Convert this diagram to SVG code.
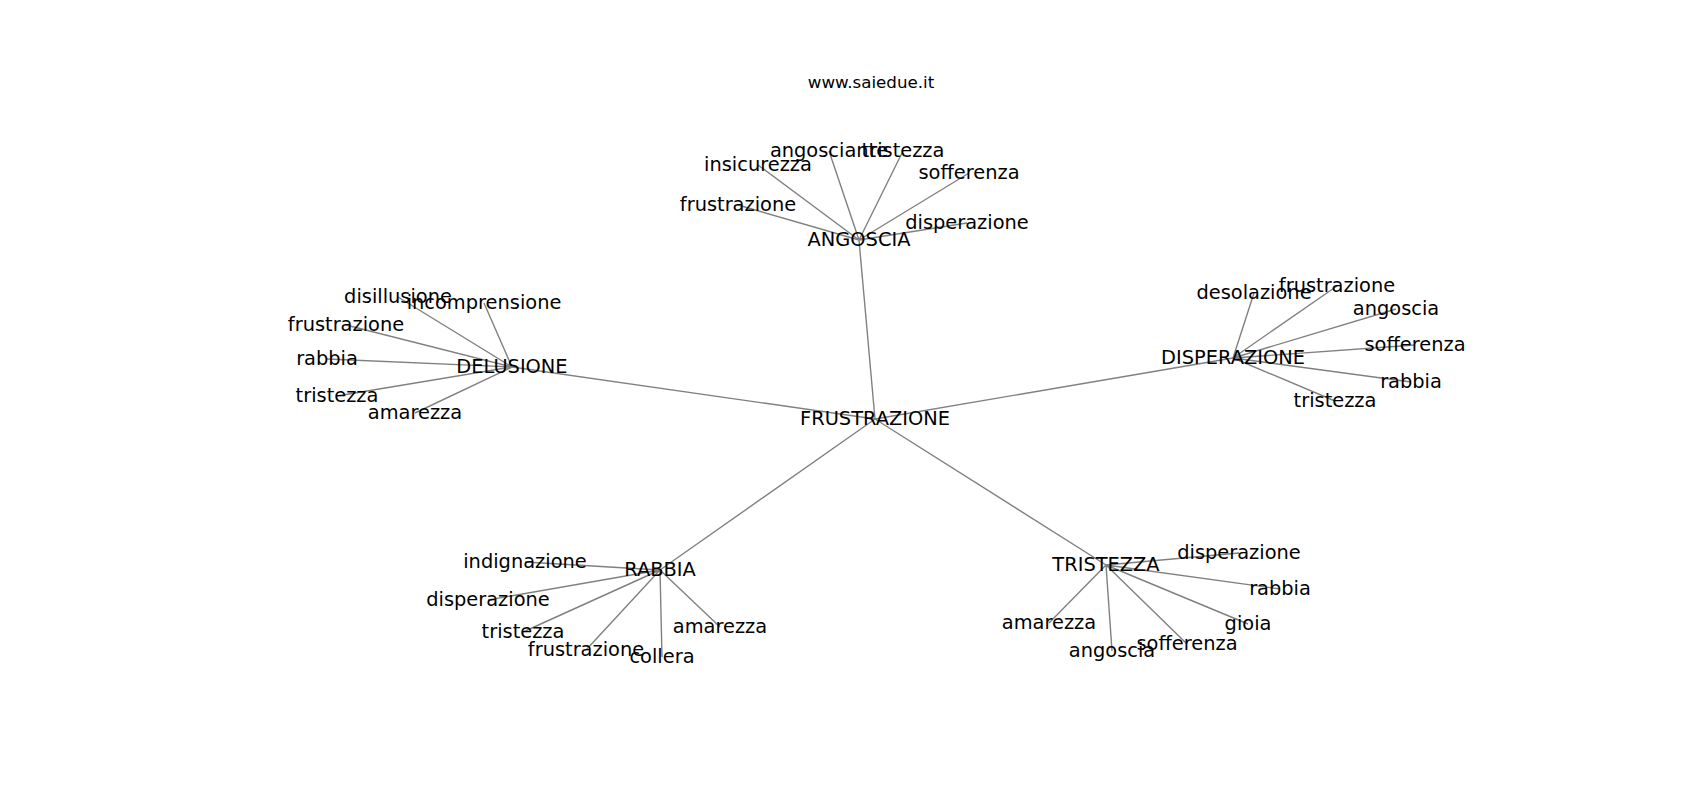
<svg xmlns="http://www.w3.org/2000/svg" width="1700" height="800" viewBox="0 0 1700 800">
<style>
.e{stroke:#808080;stroke-width:1.4;fill:none}
text{font-family:"DejaVu Sans",sans-serif;fill:#000;text-anchor:middle}
.n{font-size:19.4px}
.t{font-size:16.7px}
</style>
<rect width="1700" height="800" fill="#fff"/>
<text class="t" x="871" y="88">www.saiedue.it</text>
<g id="edges">
<path class="e" d="M875 419L859 240M875 419L512 367M875 419L1233 358M875 419L660 570M875 419L1106 565"/>
<path class="e" d="M859 240L758 165M859 240L829 151M859 240L903 151M859 240L969 173M859 240L738 205M859 240L967 223"/>
<path class="e" d="M512 367L398 297M512 367L484 303M512 367L346 325M512 367L327 359M512 367L337 396M512 367L415 413"/>
<path class="e" d="M1233 358L1254 293M1233 358L1337 286M1233 358L1396 309M1233 358L1415 345M1233 358L1411 382M1233 358L1335 401"/>
<path class="e" d="M660 570L525 562M660 570L488 600M660 570L523 632M660 570L586 650M660 570L662 657M660 570L720 627"/>
<path class="e" d="M1106 565L1239 553M1106 565L1280 589M1106 565L1248 624M1106 565L1187 644M1106 565L1112 651M1106 565L1049 623"/>
</g>
<g transform="translate(0,1)">
<g id="FRUSTRAZIONE"><text class="n" x="875" y="424">FRUSTRAZIONE</text></g>
<g id="ANGOSCIA"><text class="n" x="859" y="245">ANGOSCIA</text></g>
<g id="a_insicurezza"><text class="n" x="758" y="170">insicurezza</text></g>
<g id="a_angosciante"><text class="n" x="829" y="156">angosciante</text></g>
<g id="a_tristezza"><text class="n" x="903" y="156">tristezza</text></g>
<g id="a_sofferenza"><text class="n" x="969" y="178">sofferenza</text></g>
<g id="a_frustrazione"><text class="n" x="738" y="210">frustrazione</text></g>
<g id="a_disperazione"><text class="n" x="967" y="228">disperazione</text></g>
<g id="DELUSIONE"><text class="n" x="512" y="372">DELUSIONE</text></g>
<g id="d_disillusione"><text class="n" x="398" y="302">disillusione</text></g>
<g id="d_incomprensione"><text class="n" x="484" y="308">incomprensione</text></g>
<g id="d_frustrazione"><text class="n" x="346" y="330">frustrazione</text></g>
<g id="d_rabbia"><text class="n" x="327" y="364">rabbia</text></g>
<g id="d_tristezza"><text class="n" x="337" y="401">tristezza</text></g>
<g id="d_amarezza"><text class="n" x="415" y="418">amarezza</text></g>
<g id="DISPERAZIONE"><text class="n" x="1233" y="363">DISPERAZIONE</text></g>
<g id="p_desolazione"><text class="n" x="1254" y="298">desolazione</text></g>
<g id="p_frustrazione"><text class="n" x="1337" y="291">frustrazione</text></g>
<g id="p_angoscia"><text class="n" x="1396" y="314">angoscia</text></g>
<g id="p_sofferenza"><text class="n" x="1415" y="350">sofferenza</text></g>
<g id="p_rabbia"><text class="n" x="1411" y="387">rabbia</text></g>
<g id="p_tristezza"><text class="n" x="1335" y="406">tristezza</text></g>
<g id="RABBIA"><text class="n" x="660" y="575">RABBIA</text></g>
<g id="r_indignazione"><text class="n" x="525" y="567">indignazione</text></g>
<g id="r_disperazione"><text class="n" x="488" y="605">disperazione</text></g>
<g id="r_tristezza"><text class="n" x="523" y="637">tristezza</text></g>
<g id="r_frustrazione"><text class="n" x="586" y="655">frustrazione</text></g>
<g id="r_collera"><text class="n" x="662" y="662">collera</text></g>
<g id="r_amarezza"><text class="n" x="720" y="632">amarezza</text></g>
<g id="TRISTEZZA"><text class="n" x="1106" y="570">TRISTEZZA</text></g>
<g id="s_disperazione"><text class="n" x="1239" y="558">disperazione</text></g>
<g id="s_rabbia"><text class="n" x="1280" y="594">rabbia</text></g>
<g id="s_gioia"><text class="n" x="1248" y="629">gioia</text></g>
<g id="s_sofferenza"><text class="n" x="1187" y="649">sofferenza</text></g>
<g id="s_angoscia"><text class="n" x="1112" y="656">angoscia</text></g>
<g id="s_amarezza"><text class="n" x="1049" y="628">amarezza</text></g>
</g>
</svg>
